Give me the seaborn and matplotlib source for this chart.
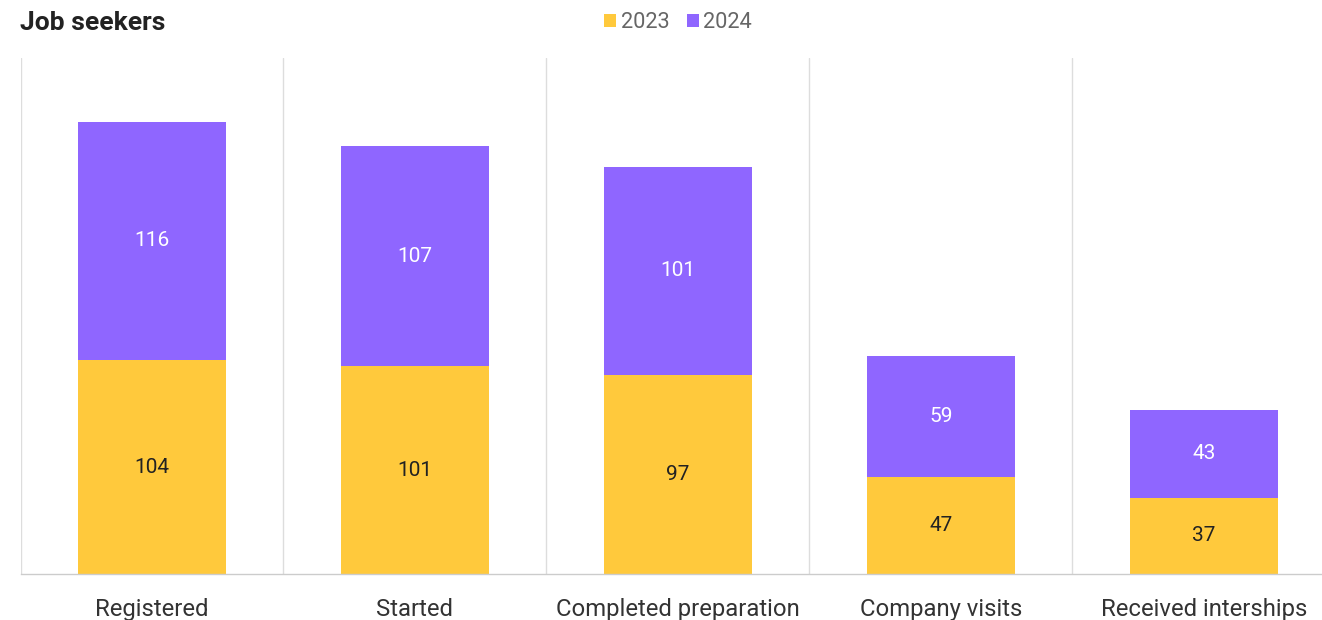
import matplotlib
matplotlib.use("Agg")
import matplotlib.pyplot as plt
import seaborn as sns
import pandas as pd
from matplotlib.patches import Patch
from matplotlib.ticker import FixedLocator

categories = ["Registered", "Started", "Completed preparation", "Company visits", "Received interships"]
values_2023 = [104, 101, 97, 47, 37]
values_2024 = [116, 107, 101, 59, 43]
series_names = ["2023", "2024"]

YELLOW = "#FFC93C"
PURPLE = "#8F66FF"

sns.set_theme(style="white")
plt.rcParams["font.family"] = ["Roboto", "DejaVu Sans"]

df = pd.DataFrame({
    "category": categories,
    "y2023": values_2023,
    "y2024": values_2024,
})
df["total"] = df["y2023"] + df["y2024"]

fig = plt.figure(figsize=(13.22, 6.2), dpi=100)
ax = fig.add_axes([20.5 / 1322, 46 / 620, 1315 / 1322, 516 / 620])

sns.barplot(data=df, x="category", y="total", color=PURPLE, width=0.56,
            saturation=1, ax=ax, edgecolor="none")
sns.barplot(data=df, x="category", y="y2023", color=YELLOW, width=0.56,
            saturation=1, ax=ax, edgecolor="none")

for i, (a, b) in enumerate(zip(values_2023, values_2024)):
    ax.text(i, a / 2, str(a), ha="center", va="center", fontsize=15, color="#222222")
    ax.text(i, a + b / 2, str(b), ha="center", va="center", fontsize=15, color="white")

ax.set_xlim(-0.5, len(categories) - 0.5)
ax.set_ylim(0, 251)
ax.set_xlabel("")
ax.set_ylabel("")
ax.set_yticks([])
ax.xaxis.set_minor_locator(FixedLocator([i - 0.5 for i in range(len(categories) + 1)]))
ax.grid(False)
ax.grid(which="minor", axis="x", color="#DDDDDD", linewidth=1)
ax.tick_params(axis="x", which="major", length=0, pad=17, labelsize=17.2, labelcolor="#333333")
ax.tick_params(axis="x", which="minor", length=0)
for s in ["top", "right", "left"]:
    ax.spines[s].set_visible(False)
ax.spines["bottom"].set_color("#CCCCCC")
ax.spines["bottom"].set_linewidth(1)

fig.text(20 / 1322, 1 - 23 / 620, "Job seekers", fontsize=19, fontweight="bold",
         color="#222222", ha="left", va="center")

handles = [Patch(facecolor=YELLOW, edgecolor="none"), Patch(facecolor=PURPLE, edgecolor="none")]
ax.legend(handles, series_names, loc="center", bbox_to_anchor=(0.5, (574 - 23) / 516),
          ncol=2, frameon=False, fontsize=15.7, labelcolor="#666666",
          handlelength=0.55, handleheight=0.55, handletextpad=0.2, columnspacing=0.8)

fig.savefig("out.png", dpi=100, facecolor="white")
